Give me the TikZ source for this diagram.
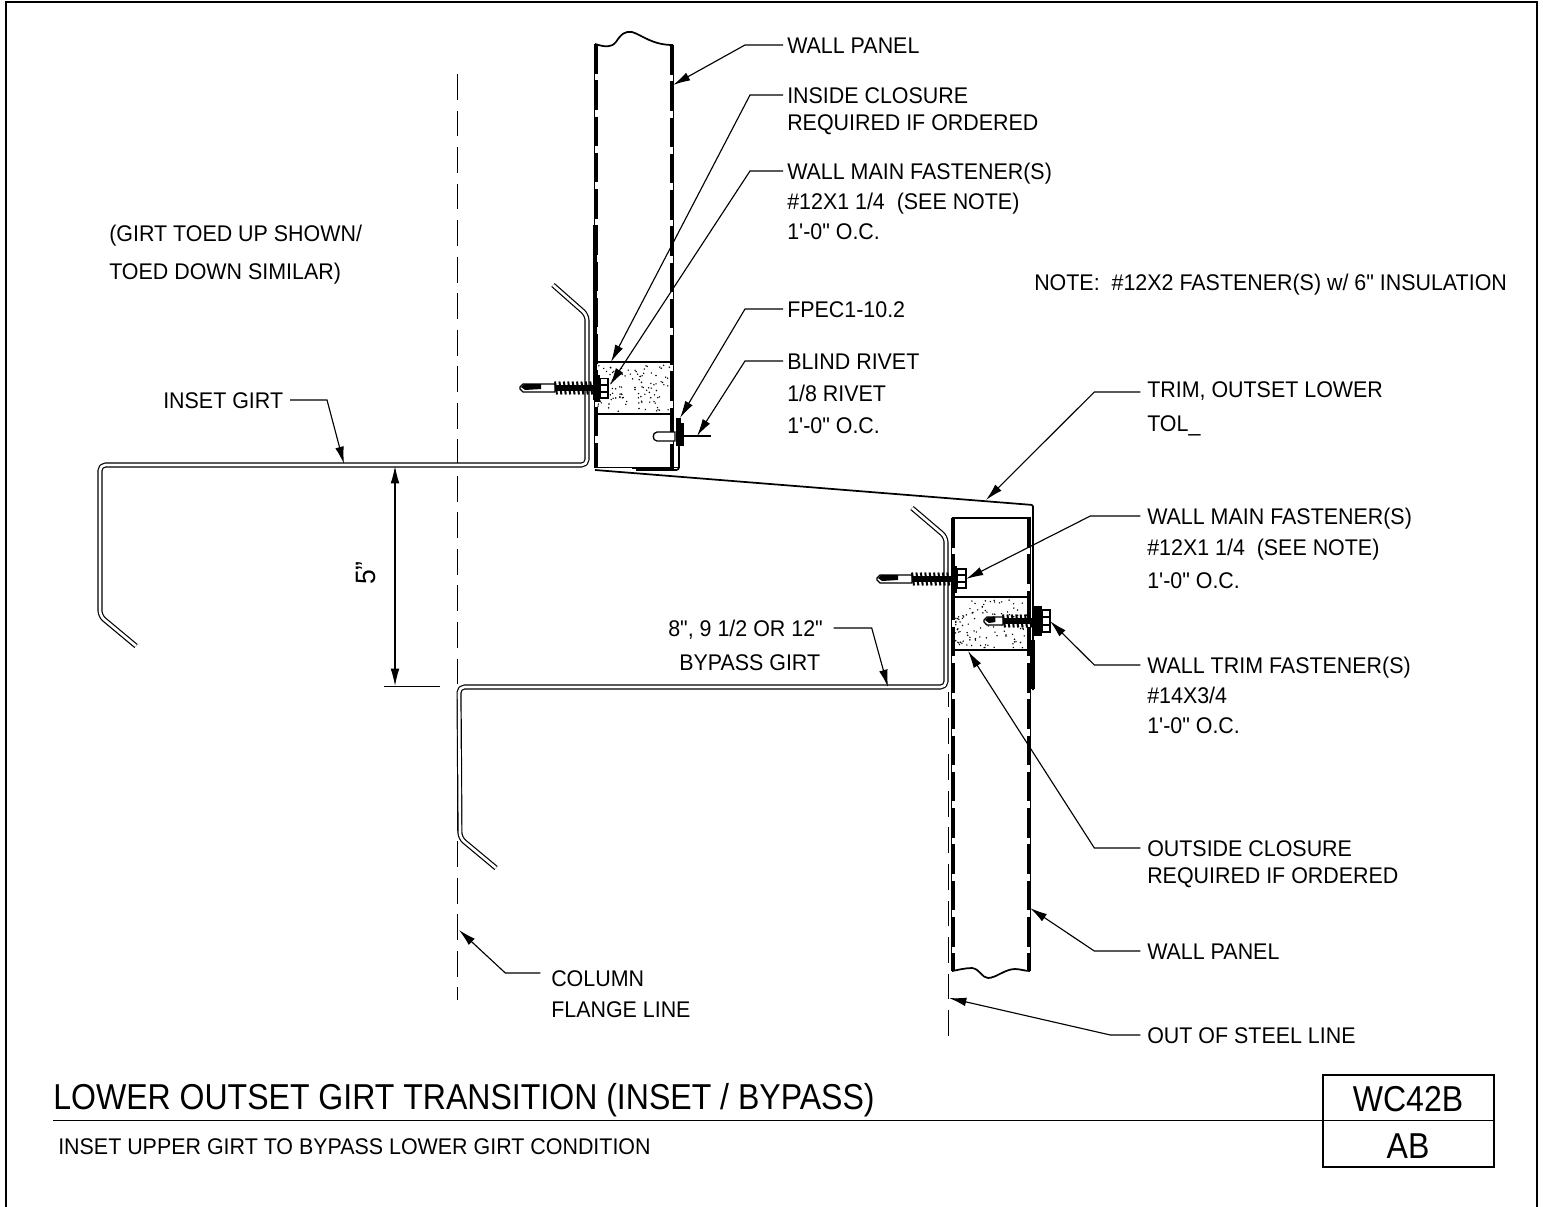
\documentclass[tikz,border=0pt]{standalone}
\usepackage{fontspec}
\setmainfont{Liberation Sans}
\newfontfamily\lblfont[FakeStretch=0.945]{Liberation Sans}
\newfontfamily\ttlfont[FakeStretch=0.89]{Liberation Sans}
\usetikzlibrary{arrows.meta}
\tikzset{
  lbl/.style={anchor=west,inner sep=0pt,font=\lblfont\fontsize{17pt}{20pt}\selectfont,text height=12pt,text depth=0pt},
  ttl/.style={inner sep=0pt,font=\ttlfont\fontsize{27pt}{30pt}\selectfont,text height=19.5pt,text depth=0pt},
  leader/.style={line width=0.85pt,-{Latex[length=13pt,width=6.5pt]}},
  girt/.style={line width=0.9pt,double=white,double distance=2pt,line join=round,rounded corners=4pt},
  panel/.style={line width=2.6pt,dash pattern=on 22.2pt off 5pt},
  panelthin/.style={line width=0.6pt},
  fine/.style={line width=0.8pt},
  heavy/.style={line width=1.3pt},
  cl/.style={line width=0.9pt,dash pattern=on 19.4pt off 8pt},
}
\newcommand{\stipple}[5]{%
  \pgfmathsetseed{#5}%
  \foreach \i in {1,...,110}{%
    \pgfmathsetmacro{\sx}{#1+(#3-#1)*rnd}%
    \pgfmathsetmacro{\sy}{#2+(#4-#2)*rnd}%
    \fill (\sx,\sy) circle (0.8);
  }}
% screw: tip at origin, pointing left; #3 shaft length, #4 last thread offset
\newcommand{\screw}[4]{%
  \begin{scope}[shift={(#1,#2)}]
    \draw[line width=1pt,fill=white,line join=round] (0,-1) -- (3,-4) -- (#3,-4) -- (#3,4) -- (3,4) -- (0,1) -- cycle;
    \fill (1,-1) -- (4,-4) -- (0.6*#3,-4) -- (0.6*#3,1) -- (5,2) -- cycle;
    \fill (#3,-3) rectangle (#3+#4+3,3);
    \foreach \t in {0,4.4,...,#4}{
      \draw[line width=1.5pt] (#3+\t,-6.5) -- (#3+\t+2,6.5);
    }
  \end{scope}}
\begin{document}
\begin{tikzpicture}[x=0.75pt,y=-0.75pt]
\useasboundingbox (0,0) rectangle (1543,1207);
\fill[white] (0,0) rectangle (1543,1207);
% frame
\draw[heavy] (6,1207) -- (6,2) -- (1537,2) -- (1537,1207);
% column flange line
\draw[cl] (457.5,74) -- (457.5,1000);
% out of steel line
\draw[cl] (948.5,1036) -- (948.5,692);

% insulation
\stipple{598}{365}{670}{412}{11}
\stipple{955}{600}{1027}{648}{23}
\draw[heavy] (596,362) -- (672,362) (596,414) -- (672,414);
\draw[line width=1.5pt] (953,597) -- (1029,597) (953,650) -- (1029,650);

% upper panel
\draw[panelthin] (594.7,44) -- (594.7,468);
\draw[panelthin] (673.3,45) -- (673.3,468);
\draw[panel] (596,44) -- (596,468);
\draw[panel] (672,45) -- (672,468);
\draw[line width=3pt] (595,225) -- (595,400);
\draw[heavy] (595,44) .. controls (605,47) and (611,48) .. (616,42) .. controls (621,34) and (625,31) .. (632,32) .. controls (642,35) and (652,45) .. (673,45);
\draw[heavy] (596,467.5) -- (678,467.5);
\draw[line width=2.2pt] (632,468) -- (674,468);
% rivet / flashing
\draw[heavy,rounded corners=2pt] (679,425) -- (679,470) -- (636,470);
\draw[line width=1pt,fill=white] (675,432) -- (657,432) .. controls (652,432) and (652,441) .. (657,441) -- (675,441) -- cycle;
\fill (676,418) rectangle (680.5,446);
\draw[line width=2pt] (682.5,423) -- (682.5,446);
\draw[fine] (683,436) -- (711,436);
% upper girt
\draw[girt] (136,646) -- (100,616) -- (100,465) -- (587,465) -- (587,315) -- (553,285);
% trim
\draw[heavy,rounded corners=1pt] (595,470) -- (1033,505) -- (1033,690);
\draw[line width=3pt] (1033,640) -- (1033,689);
% lower panel
\draw[panelthin] (951.7,518) -- (951.7,971);
\draw[panelthin] (1030.3,518) -- (1030.3,971);
\draw[panel] (953,518) -- (953,971);
\draw[panel] (1029,518) -- (1029,971);
\draw[line width=2.2pt] (951.5,518) -- (1030.5,518);
\draw[heavy] (952,971) .. controls (958,970) and (965,968) .. (972,968) .. controls (980,969) and (982,978) .. (988,978) .. controls (996,978) and (1005,969) .. (1015,969) .. controls (1020,969) and (1025,971) .. (1030,971);
% lower girt
\draw[girt] (496,868) -- (460,838) -- (459,687) -- (946,687) -- (946,537) -- (912,508);
% screws
\screw{520}{388}{35}{36}
\fill (595,375) rectangle (600,402);
\draw[line width=1.1pt,fill=white] (600,378.5) rectangle (608,398);
\draw[fine] (600,385) -- (608,385) (600,392) -- (608,392);
\screw{877}{579}{35}{36}
\fill (952,566) rectangle (957,593);
\draw[line width=1.1pt,fill=white] (957,569) rectangle (966,588);
\draw[fine] (957,575) -- (966,575) (957,582) -- (966,582);
\screw{984}{621}{19}{29}
\fill (1033,606) rectangle (1042,636);
\draw[line width=1.1pt,fill=white] (1042,610) rectangle (1050,632);
\draw[fine] (1042,617) -- (1050,617) (1042,625) -- (1050,625);

% dimension
\draw[fine,{Latex[length=13pt,width=6.5pt]}-{Latex[length=13pt,width=6.5pt]}] (395,466) -- (395,686);
\draw[fine] (384,686.5) -- (440,686.5);
\node[rotate=90,font=\lblfont\fontsize{21pt}{24pt}\selectfont,inner sep=0pt] (dimtxt) at (366,573) {5”};

% labels
\node[lbl] (wp1) at (787,45) {WALL PANEL};
\node[lbl] (ic1) at (787,95) {INSIDE CLOSURE};
\node[lbl] (ic2) at (787,122) {REQUIRED IF ORDERED};
\node[lbl] (wm1) at (787,171) {WALL MAIN FASTENER(S)};
\node[lbl] (wm2) at (787,201) {\#12X1 1/4\ \ (SEE NOTE)};
\node[lbl] (wm3) at (787,231) {1'-0" O.C.};
\node[lbl] (gt1) at (109,233) {(GIRT TOED UP SHOWN/};
\node[lbl] (gt2) at (109,271) {TOED DOWN SIMILAR)};
\node[lbl] (note) at (1034,282) {NOTE:\ \ \#12X2 FASTENER(S) w/ 6" INSULATION};
\node[lbl] (fp) at (787,309) {FPEC1-10.2};
\node[lbl] (br1) at (787,361) {BLIND RIVET};
\node[lbl] (br2) at (787,393) {1/8 RIVET};
\node[lbl] (br3) at (787,425) {1'-0" O.C.};
\node[lbl] (ig) at (163,400) {INSET GIRT};
\node[lbl] (tr1) at (1147,389) {TRIM, OUTSET LOWER};
\node[lbl] (tr2) at (1147,423) {TOL\_};
\node[lbl] (lm1) at (1147,516) {WALL MAIN FASTENER(S)};
\node[lbl] (lm2) at (1147,547) {\#12X1 1/4\ \ (SEE NOTE)};
\node[lbl] (lm3) at (1147,580) {1'-0" O.C.};
\node[lbl] (by1) at (668,628) {8", 9 1/2 OR 12"};
\node[lbl] (by2) at (679,662) {BYPASS GIRT};
\node[lbl] (tf1) at (1147,665) {WALL TRIM FASTENER(S)};
\node[lbl] (tf2) at (1147,695) {\#14X3/4};
\node[lbl] (tf3) at (1147,725) {1'-0" O.C.};
\node[lbl] (oc1) at (1147,848) {OUTSIDE CLOSURE};
\node[lbl] (oc2) at (1147,875) {REQUIRED IF ORDERED};
\node[lbl] (lp) at (1147,951) {WALL PANEL};
\node[lbl] (cf1) at (551,978) {COLUMN};
\node[lbl] (cf2) at (551,1009) {FLANGE LINE};
\node[lbl] (os) at (1147,1035) {OUT OF STEEL LINE};

% leader tips
\coordinate (Twp) at (673,85);
\coordinate (Tic) at (611,362);
\coordinate (Twm) at (610,385);
\coordinate (Tfp) at (680,418);
\coordinate (Tbr) at (697,436);
\coordinate (Tig) at (344,464);
\coordinate (Ttr) at (986,500);
\coordinate (Tlm) at (966,579);
\coordinate (Tby) at (888,687);
\coordinate (Ttf) at (1050,621);
\coordinate (Toc) at (968,651);
\coordinate (Tlp) at (1030,908);
\coordinate (Tcf) at (459,930);
\coordinate (Tos) at (949,998);

\draw[leader] ([xshift=-3pt]wp1.west) -- ++(-38,0) -- (Twp);
\draw[leader] ([xshift=-3pt]ic1.west) -- ++(-33,0) -- (Tic);
\draw[leader] ([xshift=-3pt]wm1.west) -- ++(-33,0) -- (Twm);
\draw[leader] ([xshift=-3pt]fp.west) -- ++(-38,0) -- (Tfp);
\draw[leader] ([xshift=-3pt]br1.west) -- ++(-38,0) -- (Tbr);
\draw[leader] ([xshift=5pt]ig.east) -- ++(37,0) -- (Tig);
\draw[leader] ([xshift=-5pt,yshift=-2.25pt]tr1.west) -- ++(-46,0) -- (Ttr);
\draw[leader] ([xshift=-5pt]lm1.west) -- ++(-50,0) -- (Tlm);
\draw[leader] ([xshift=8pt]by1.east) -- ++(38,0) -- (Tby);
\draw[leader] ([xshift=-5pt]tf1.west) -- ++(-46,0) -- (Ttf);
\draw[leader] ([xshift=-5pt]oc1.west) -- ++(-46,0) -- (Toc);
\draw[leader] ([xshift=-5pt]lp.west) -- ++(-46,0) -- (Tlp);
\draw[leader] ([xshift=-8pt,yshift=3.75pt]cf1.west) -- ++(-35,0) -- (Tcf);
\draw[leader] ([xshift=-5pt]os.west) -- ++(-30,0) -- (Tos);

% title block
\node[ttl,anchor=west] (title) at (53,1096) {LOWER OUTSET GIRT TRANSITION (INSET / BYPASS)};
\node[lbl] (sub) at (58,1146) {INSET UPPER GIRT TO BYPASS LOWER GIRT CONDITION};
\draw[fine] (53,1120.5) -- (1323,1120.5);
\draw[heavy] (1323,1075) rectangle (1494,1167);
\draw[heavy] (1323,1120.5) -- (1494,1120.5);
\node[ttl] (wc) at (1408,1098) {WC42B};
\node[ttl] (ab) at (1408,1145) {AB};
\end{tikzpicture}
\end{document}
